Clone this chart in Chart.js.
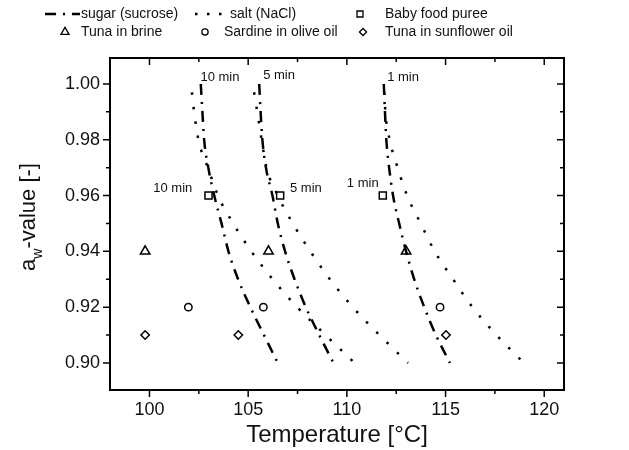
<!DOCTYPE html>
<html>
<head>
<meta charset="utf-8">
<script src="https://cdn.jsdelivr.net/npm/chart.js@4.4.1/dist/chart.umd.min.js"></script>
<style>
  html, body { margin: 0; padding: 0; background: #fff; }
  canvas { display: block; }
</style>
</head>
<body>
<canvas id="grafico" width="629" height="450"></canvas>
<script>
// === Data ===
const awSugar = [1.00, 0.99, 0.98, 0.97, 0.96, 0.95, 0.94, 0.93, 0.92, 0.91, 0.90];
const sugar10 = [102.6, 102.68, 102.77, 102.98, 103.28, 103.65, 104.0, 104.49, 105.11, 105.8, 106.5];
const sugar5 = [105.56, 105.63, 105.72, 105.9, 106.23, 106.5, 106.87, 107.35, 107.92, 108.6, 109.32];
const sugar1 = [111.87, 111.93, 112.0, 112.14, 112.34, 112.65, 113.0, 113.41, 113.92, 114.51, 115.22];

const awSalt = [0.997, 0.99, 0.98, 0.97, 0.96, 0.95, 0.94, 0.93, 0.92, 0.91, 0.90];
const salt10 = [102.15, 102.26, 102.48, 102.96, 103.47, 104.24, 105.16, 106.24, 107.48, 108.92, 110.39];
const salt5 = [105.3, 105.46, 105.68, 105.93, 106.5, 107.26, 108.15, 109.14, 110.3, 111.65, 113.1];
const salt1 = [111.9, 111.95, 112.17, 112.57, 113.05, 113.74, 114.45, 115.38, 116.36, 117.58, 118.96];

const babyT = [102.99, 106.62, 111.82];
const babyAw = [0.96, 0.96, 0.96];
const brineT = [99.78, 106.03, 113.0];
const brineAw = [0.94, 0.94, 0.94];
const sardineT = [101.97, 105.77, 114.72];
const sardineAw = [0.92, 0.92, 0.92];
const sunflowerT = [99.78, 104.5, 115.02];
const sunflowerAw = [0.91, 0.91, 0.91];

const notesText = ['10 min', '5 min', '1 min', '10 min', '5 min', '1 min'];
const notesT = [102.58, 105.76, 112.04, 100.19, 107.12, 110.0];
const notesAw = [1.0025, 1.0032, 1.0025, 0.9627, 0.9625, 0.9645];

const xTicks = [100, 105, 110, 115, 120];
const xMinor = [100, 102.5, 105, 107.5, 110, 112.5, 115, 117.5, 120];
const yTicks = [0.90, 0.92, 0.94, 0.96, 0.98, 1.00];
const yMinor = [0.90, 0.91, 0.92, 0.93, 0.94, 0.95, 0.96, 0.97, 0.98, 0.99, 1.00];

const FONTE = "'Liberation Sans', Arial, sans-serif";
const COR_TEXTO = '#111';
const SUGAR_DASH = [11, 7, 2, 7];
const SALT_DASH = [2.5, 12];

function pontos(xs, ys) {
  return xs.map((x, i) => ({ x: x, y: ys[i] }));
}

function curva(xs, ys, dash) {
  return {
    data: pontos(xs, ys),
    showLine: true,
    borderColor: '#000',
    borderWidth: 2.5,
    borderDash: dash,
    pointRadius: 0,
    cubicInterpolationMode: 'monotone'
  };
}

function marcador(xs, ys, estilo, raio) {
  return {
    data: pontos(xs, ys),
    showLine: false,
    pointStyle: estilo,
    pointRadius: raio,
    pointBorderColor: '#000',
    pointBackgroundColor: 'rgba(0,0,0,0)',
    pointBorderWidth: 1.5
  };
}

// === Marker drawing for legend ===
function desenharMarcador(ctx, estilo, x, y, r) {
  ctx.beginPath();
  if (estilo === 'rect') {
    const s = r * Math.SQRT1_2;
    ctx.rect(x - s, y - s, 2 * s, 2 * s);
  } else if (estilo === 'triangle') {
    for (let i = 0; i < 3; i++) {
      const a = i * 2 * Math.PI / 3;
      const px = x + Math.sin(a) * r, py = y - Math.cos(a) * r;
      i === 0 ? ctx.moveTo(px, py) : ctx.lineTo(px, py);
    }
    ctx.closePath();
  } else if (estilo === 'circle') {
    ctx.arc(x, y, r, 0, Math.PI * 2);
  } else {
    ctx.moveTo(x, y - r); ctx.lineTo(x + r, y); ctx.lineTo(x, y + r); ctx.lineTo(x - r, y);
    ctx.closePath();
  }
  ctx.stroke();
}

// === Plugins ===
const moldura = {
  id: 'moldura',
  afterDraw(chart) {
    const { ctx, chartArea: a, scales: { x, y } } = chart;
    ctx.save();
    ctx.strokeStyle = '#000';
    ctx.lineWidth = 2;
    ctx.strokeRect(a.left, a.top, a.right - a.left, a.bottom - a.top);
    ctx.lineWidth = 1.5;
    ctx.beginPath();
    xMinor.forEach(v => {
      const px = x.getPixelForValue(v);
      const len = xTicks.includes(v) ? 7 : 4;
      ctx.moveTo(px, a.bottom); ctx.lineTo(px, a.bottom + len);
      ctx.moveTo(px, a.top); ctx.lineTo(px, a.top + len);
    });
    yMinor.forEach(v => {
      const py = y.getPixelForValue(v);
      const major = yTicks.some(t => Math.abs(t - v) < 1e-6);
      const len = major ? 7 : 4;
      ctx.moveTo(a.left, py); ctx.lineTo(a.left - len, py);
      ctx.moveTo(a.right, py); ctx.lineTo(a.right - len, py);
    });
    ctx.stroke();
    ctx.restore();
  }
};

const anotacoes = {
  id: 'anotacoes',
  afterDraw(chart) {
    const { ctx, scales: { x, y } } = chart;
    ctx.save();
    ctx.font = '13px ' + FONTE;
    ctx.fillStyle = COR_TEXTO;
    ctx.textAlign = 'left';
    ctx.textBaseline = 'middle';
    notesText.forEach((t, i) => {
      ctx.fillText(t, x.getPixelForValue(notesT[i]), y.getPixelForValue(notesAw[i]));
    });
    ctx.restore();
  }
};

const tituloY = {
  id: 'tituloY',
  afterDraw(chart) {
    const { ctx, chartArea: a } = chart;
    ctx.save();
    ctx.fillStyle = COR_TEXTO;
    ctx.textBaseline = 'alphabetic';
    ctx.textAlign = 'left';
    ctx.translate(35, (a.top + a.bottom) / 2 - 7);
    ctx.rotate(-Math.PI / 2);
    ctx.font = '22px ' + FONTE;
    const wA = ctx.measureText('a').width;
    const wResto = ctx.measureText('-value [-]').width;
    ctx.font = '14px ' + FONTE;
    const wW = ctx.measureText('w').width;
    let x0 = -(wA + wW + wResto) / 2;
    ctx.font = '22px ' + FONTE;
    ctx.fillText('a', x0, 0);
    ctx.font = '14px ' + FONTE;
    ctx.fillText('w', x0 + wA, 7);
    ctx.font = '22px ' + FONTE;
    ctx.fillText('-value [-]', x0 + wA + wW, 0);
    ctx.restore();
  }
};

const legenda = {
  id: 'legenda',
  afterDraw(chart) {
    const { ctx } = chart;
    const ds = chart.data.datasets;
    ctx.save();
    ctx.strokeStyle = '#000';
    ctx.fillStyle = COR_TEXTO;
    ctx.font = '14px ' + FONTE;
    ctx.textAlign = 'left';
    ctx.textBaseline = 'middle';

    // line samples
    ctx.lineWidth = 2.5;
    ctx.setLineDash(ds[0].borderDash);
    ctx.beginPath(); ctx.moveTo(45, 14); ctx.lineTo(80, 14); ctx.stroke();
    ctx.setLineDash([2.5, 9.5]);
    ctx.beginPath(); ctx.moveTo(195, 14); ctx.lineTo(224, 14); ctx.stroke();
    ctx.setLineDash([]);
    ctx.fillText('sugar (sucrose)', 81, 14);
    ctx.fillText('salt (NaCl)', 230, 14);

    const itens = [
      { ds: ds[6], x: 360, y: 14, tx: 385, label: 'Baby food puree' },
      { ds: ds[7], x: 65, y: 32, tx: 81, label: 'Tuna in brine' },
      { ds: ds[8], x: 205, y: 32, tx: 224, label: 'Sardine in olive oil' },
      { ds: ds[9], x: 363, y: 32, tx: 385, label: 'Tuna in sunflower oil' }
    ];
    itens.forEach(it => {
      ctx.lineWidth = 1.3;
      desenharMarcador(ctx, it.ds.pointStyle, it.x, it.y, it.ds.pointRadius * 0.85);
      ctx.fillText(it.label, it.tx, it.y);
    });
    ctx.restore();
  }
};

// === Chart ===
new Chart(document.getElementById('grafico'), {
  type: 'scatter',
  data: {
    datasets: [
      curva(sugar10, awSugar, SUGAR_DASH),
      curva(sugar5, awSugar, SUGAR_DASH),
      curva(sugar1, awSugar, SUGAR_DASH),
      curva(salt10, awSalt, SALT_DASH),
      curva(salt5, awSalt, SALT_DASH),
      curva(salt1, awSalt, SALT_DASH),
      marcador(babyT, babyAw, 'rect', 5),
      marcador(brineT, brineAw, 'triangle', 5.5),
      marcador(sardineT, sardineAw, 'circle', 3.7),
      marcador(sunflowerT, sunflowerAw, 'rectRot', 4.2)
    ]
  },
  options: {
    responsive: false,
    animation: false,
    events: [],
    devicePixelRatio: 1,
    layout: { padding: { top: 58, right: 65, bottom: 0, left: 0 } },
    plugins: { legend: { display: false }, tooltip: { enabled: false } },
    scales: {
      x: {
        type: 'linear',
        min: 98,
        max: 121,
        afterBuildTicks: s => { s.ticks = xTicks.map(v => ({ value: v })); },
        afterFit: s => { s.height = 60; },
        grid: { display: false, drawTicks: false },
        border: { display: false },
        ticks: {
          color: COR_TEXTO,
          font: { family: FONTE, size: 18 },
          padding: 9,
          maxRotation: 0,
          callback: v => String(v)
        },
        title: {
          display: true,
          text: 'Temperature [°C]',
          color: COR_TEXTO,
          font: { family: FONTE, size: 24 },
          padding: { top: 0, bottom: 0 }
        }
      },
      y: {
        type: 'linear',
        min: 0.8903,
        max: 1.0093,
        afterBuildTicks: s => { s.ticks = yTicks.map(v => ({ value: v })); },
        afterFit: s => { s.width = 110; },
        grid: { display: false, drawTicks: false },
        border: { display: false },
        ticks: {
          color: COR_TEXTO,
          font: { family: FONTE, size: 18 },
          padding: 10,
          callback: v => v.toFixed(2)
        }
      }
    }
  },
  plugins: [moldura, anotacoes, tituloY, legenda]
});
</script>
</body>
</html>
